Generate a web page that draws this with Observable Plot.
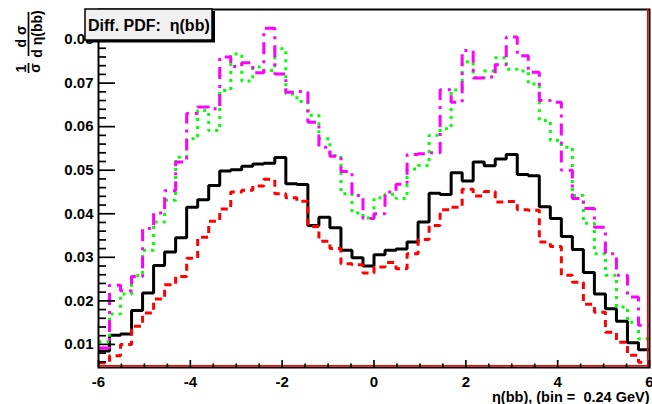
<!DOCTYPE html>
<html><head><meta charset="utf-8">
<script src="https://cdn.jsdelivr.net/npm/d3@7"></script>
<script src="https://cdn.jsdelivr.net/npm/@observablehq/plot@0.6"></script>
<style>
html,body{margin:0;padding:0;background:#fff;}
#chart svg{display:block;white-space:pre;}
</style></head><body><div id="chart"></div>
<script>
// ---- data (50 bins of width 0.24 from -6 to 6) ----
const xStart = -6;
const binWidth = 0.24;
const blackSeries = [0.0085,0.0121,0.0124,0.0178,0.0218,0.0281,0.0312,0.0345,0.0415,0.0432,0.0465,0.0498,0.0501,0.0509,0.0514,0.0516,0.0529,0.0469,0.0467,0.0373,0.0392,0.0368,0.0316,0.0299,0.0280,0.0306,0.0316,0.0319,0.0335,0.0381,0.0447,0.0444,0.0494,0.0475,0.0519,0.0510,0.0526,0.0536,0.0490,0.0487,0.0416,0.0389,0.0348,0.0318,0.0265,0.0216,0.0182,0.0153,0.0104,0.0088];
const redSeries = [0.0058,0.0074,0.0100,0.0142,0.0172,0.0204,0.0237,0.0256,0.0298,0.0346,0.0383,0.0411,0.0450,0.0454,0.0464,0.0479,0.0446,0.0437,0.0429,0.0371,0.0337,0.0320,0.0285,0.0283,0.0264,0.0278,0.0288,0.0274,0.0308,0.0341,0.0373,0.0409,0.0415,0.0456,0.0441,0.0451,0.0427,0.0428,0.0409,0.0408,0.0335,0.0325,0.0259,0.0243,0.0192,0.0174,0.0128,0.0105,0.0075,0.0059];
const greenSeries = [0.0106,0.0170,0.0216,0.0258,0.0316,0.0381,0.0431,0.0530,0.0572,0.0637,0.0591,0.0683,0.0767,0.0705,0.0737,0.0729,0.0779,0.0675,0.0658,0.0626,0.0572,0.0534,0.0446,0.0402,0.0390,0.0437,0.0445,0.0435,0.0503,0.0511,0.0580,0.0595,0.0684,0.0749,0.0713,0.0728,0.0758,0.0732,0.0728,0.0698,0.0614,0.0568,0.0553,0.0442,0.0378,0.0308,0.0259,0.0186,0.0151,0.0113];
const magentaSeries = [0.0092,0.0236,0.0223,0.0256,0.0366,0.0402,0.0453,0.0519,0.0630,0.0645,0.0641,0.0760,0.0738,0.0747,0.0724,0.0826,0.0721,0.0679,0.0681,0.0610,0.0553,0.0532,0.0497,0.0442,0.0389,0.0400,0.0450,0.0468,0.0536,0.0538,0.0540,0.0685,0.0656,0.0775,0.0712,0.0714,0.0742,0.0806,0.0763,0.0725,0.0660,0.0656,0.0500,0.0435,0.0412,0.0369,0.0308,0.0259,0.0209,0.0144];

const yTickValues = [0.01,0.02,0.03,0.04,0.05,0.06,0.07,0.08];
const yTickLabels = ["0.01","0.02","0.03","0.04","0.05","0.06","0.07","0.08"];
const xTickValues = [-6,-4,-2,0,2,4,6];
const xTickLabels = ["-6","-4","-2","0","2","4","6"];
const xTitle = "\u03b7(bb), (bin =  0.24 GeV)";
const boxTitle = "Diff. PDF:  \u03b7(bb)";

// ---- layout ----
const W = 652, H = 404, mL = 98, mR = 3, mT = 9, mB = 37;
const plotW = W - mL - mR, plotH = H - mT - mB;
const yDomain = [0.0047, 0.0869];
const FONT = "'Liberation Sans', Arial, Helvetica, sans-serif";

function steps(vals) {
  const pts = vals.map((v, i) => ({x: xStart + i * binWidth, y: v}));
  pts.push({x: xStart + vals.length * binWidth, y: vals[vals.length - 1]});
  return pts;
}
const yMinor = d3.range(0.006, 0.0869, 0.002).filter(v => Math.abs(v * 100 - Math.round(v * 100)) > 1e-6);
const xMinor = d3.range(-5.5, 6, 0.5).filter(v => Math.abs(v / 2 - Math.round(v / 2)) > 1e-6);

const lineOpts = {x: "x", y: "y", curve: "step-after", strokeWidth: 3, strokeLinecap: "butt", strokeLinejoin: "miter", clip: true};

const chart = Plot.plot({
  width: W, height: H,
  marginLeft: mL, marginRight: mR, marginTop: mT, marginBottom: mB,
  x: {domain: [-6, 6]},
  y: {domain: yDomain},
  style: {fontFamily: FONT, fontWeight: "bold", background: "white", overflow: "visible", color: "black"},
  marks: [
    Plot.line(steps(blackSeries), {...lineOpts, stroke: "black"}),
    Plot.line(steps(redSeries), {...lineOpts, stroke: "#ff0000", strokeDasharray: "7,5"}),
    Plot.line(steps(greenSeries), {...lineOpts, stroke: "#00ff00", strokeDasharray: "3,5"}),
    Plot.line(steps(magentaSeries), {...lineOpts, stroke: "#ff00ff", strokeDasharray: "12,6,3,6"}),
    Plot.frame({stroke: "black", strokeWidth: 2}),
    Plot.ruleY([yDomain[0]], {stroke: "#ff0000", strokeWidth: 1.5, dy: -1.8}),
    Plot.ruleX([6], {stroke: "#ff0000", strokeWidth: 1.5, dx: -1.8}),
    Plot.tickY(yTickValues, {y: d => d, insetRight: plotW - 17, stroke: "black", strokeWidth: 1.7}),
    Plot.tickY(yMinor, {y: d => d, insetRight: plotW - 8, stroke: "black", strokeWidth: 1.7}),
    Plot.tickX(xTickValues, {x: d => d, insetTop: plotH - 7, stroke: "black", strokeWidth: 1.7}),
    Plot.tickX(xMinor, {x: d => d, insetTop: plotH - 3.5, stroke: "black", strokeWidth: 1.7}),
    Plot.axisY({ticks: yTickValues, tickFormat: (d, i) => yTickLabels[i], tickSize: 0, tickPadding: 5, label: null, fontSize: 15, fontWeight: "bold"}),
    Plot.axisX({ticks: xTickValues, tickFormat: (d, i) => xTickLabels[i], tickSize: 0, tickPadding: 9, label: null, fontSize: 15, fontWeight: "bold"}),
    Plot.text([xTitle], {frameAnchor: "bottom-right", text: d => d, textAnchor: "end", lineAnchor: "bottom", dy: 34, dx: 0, fontSize: 14.5, fontWeight: "bold"})
  ]
});
document.getElementById("chart").appendChild(chart);

// ---- title box (pave) ----
const svg = d3.select(chart);
const box = svg.append("g");
box.append("rect").attr("x", 87).attr("y", 11).attr("width", 128).attr("height", 31.5).attr("fill", "black");
box.append("rect").attr("x", 85).attr("y", 9).attr("width", 127).attr("height", 31).attr("fill", "#f0f0f0").attr("stroke", "black").attr("stroke-width", 1.5);
box.append("text").attr("x", 88).attr("y", 31).attr("text-anchor", "start").attr("font-family", FONT).attr("font-weight", "bold").attr("font-size", 16).attr("fill", "black").style("white-space", "pre").text(boxTitle);

// ---- y-axis title: (1/σ)(dσ/dη(bb)) rotated ----
const yt = svg.append("g").attr("transform", "rotate(-90)").attr("font-family", FONT).attr("font-weight", "bold").attr("font-size", 14).attr("fill", "black").attr("text-anchor", "middle");
yt.append("text").attr("x", -68.5).attr("y", 26).text("1");
yt.append("line").attr("x1", -73).attr("x2", -63).attr("y1", 28.5).attr("y2", 28.5).attr("stroke", "black").attr("stroke-width", 1.7);
yt.append("text").attr("x", -68).attr("y", 40).text("\u03c3");
yt.append("text").attr("x", -36.5).attr("y", 26).style("white-space", "pre").text("d \u03c3");
yt.append("line").attr("x1", -56).attr("x2", -12).attr("y1", 28.5).attr("y2", 28.5).attr("stroke", "black").attr("stroke-width", 1.7);
yt.append("text").attr("x", -34).attr("y", 42).style("white-space", "pre").text("d \u03b7(bb)");
</script></body></html>
